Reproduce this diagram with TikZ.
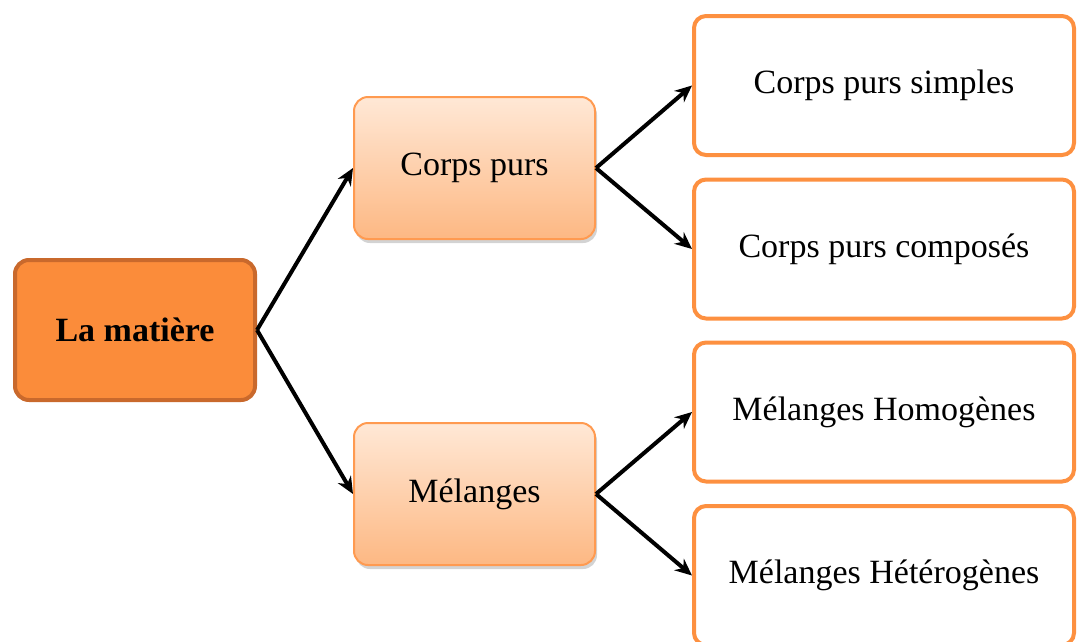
\documentclass[tikz,border=0pt]{standalone}
\usepackage{fontspec}
\setmainfont{Liberation Serif}
\usetikzlibrary{arrows.meta,shadows}
\definecolor{matfill}{HTML}{FB8C3A}
\definecolor{matline}{HTML}{C9692C}
\definecolor{midtop}{HTML}{FFE8D6}
\definecolor{midbot}{HTML}{FDB883}
\definecolor{midline}{HTML}{FF9A50}
\definecolor{leafline}{HTML}{FD9040}
\tikzset{
  matbox/.style={draw=matline,line width=4pt,fill=matfill,rounded corners=14pt,
    minimum width=240pt,minimum height=140pt,font=\fontsize{34}{40}\selectfont\bfseries},
  midbox/.style={draw=midline,line width=2pt,top color=midtop,bottom color=midbot,
    rounded corners=14pt,minimum width=241pt,minimum height=142pt,
    drop shadow={opacity=0.35,shadow xshift=2pt,shadow yshift=-4pt},
    font=\fontsize{34}{40}\selectfont},
  leafbox/.style={draw=leafline,line width=4pt,fill=white,rounded corners=12pt,
    minimum width=380pt,minimum height=139pt,font=\fontsize{34}{40}\selectfont},
  branch/.style={line width=4pt,-{Stealth[length=17pt,width=15pt]}}
}
\begin{document}
\begin{tikzpicture}[x=1pt,y=-1pt]
 \useasboundingbox (0,0) rectangle (1077,641);
 % left column
 \node[matbox] (matiere) at (135,330) {La matière};
 % middle column
 \node[midbox] (corps) at (474.5,168) {Corps purs};
 \node[midbox] (melanges) at (474.5,494) {Mélanges};
 % right column
 \node[leafbox] (simples) at (884,85.5) {Corps purs simples};
 \node[leafbox] (composes) at (884,249) {Corps purs composés};
 \node[leafbox] (homogenes) at (884,412) {Mélanges Homogènes};
 \node[leafbox] (heterogenes) at (884,575.5) {Mélanges Hétérogènes};
 % arrows
 \draw[branch] (matiere.east) -- (corps.west);
 \draw[branch] (matiere.east) -- (melanges.west);
 \draw[branch] (corps.east) -- (simples.west);
 \draw[branch] (corps.east) -- (composes.west);
 \draw[branch] (melanges.east) -- (homogenes.west);
 \draw[branch] (melanges.east) -- (heterogenes.west);
\end{tikzpicture}
\end{document}
